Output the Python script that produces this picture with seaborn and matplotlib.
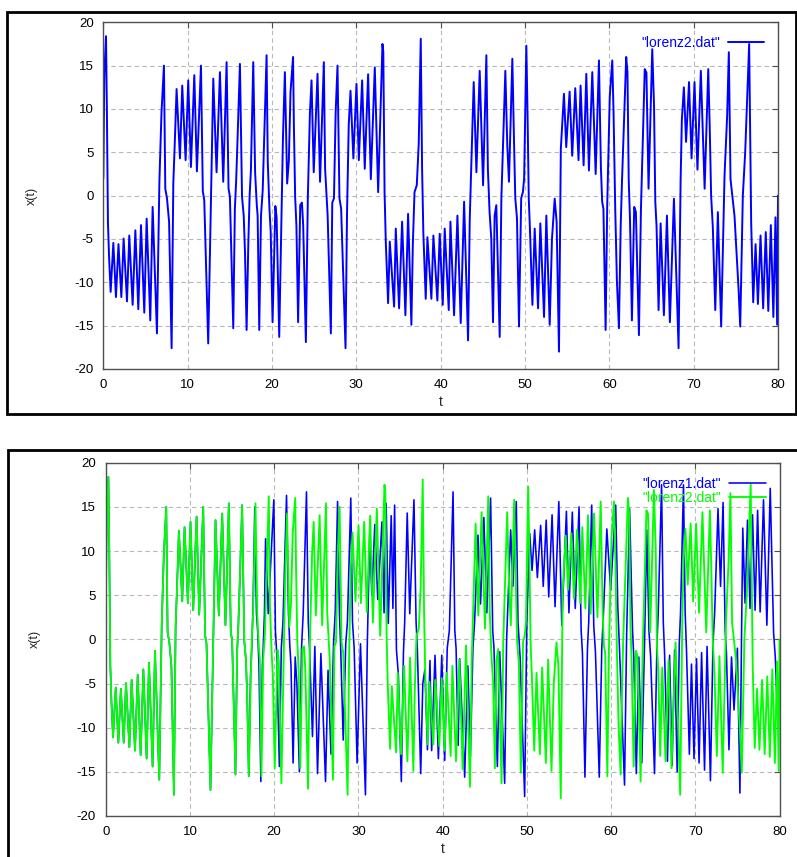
import matplotlib
matplotlib.use("Agg")
import matplotlib.pyplot as plt
from matplotlib.patches import Rectangle
import seaborn as sns
import pandas as pd

# ---------------- data (extrema) ----------------
shared_t = [0.0, 0.12, 0.32, 0.42, 0.55, 0.68, 0.87, 1.19, 1.50, 1.80, 2.14, 2.41, 2.81, 3.08,
            3.48, 3.80, 4.15, 4.47, 4.86, 5.14, 5.57, 5.85, 6.36, 6.65, 6.9, 7.19, 7.35, 7.55,
            7.8, 8.10, 8.3, 8.45, 8.69, 9.09, 9.36, 9.76, 10.07, 10.39, 10.79, 11.10, 11.58,
            11.8, 11.97, 12.44, 13.04, 13.43, 13.83, 14.22, 14.62, 14.85, 15.01, 15.41,
            15.6, 15.75, 15.9, 16.2, 16.45, 16.65, 16.8, 16.99]
shared_x = [2.0, 14.0, 18.4, 10.4, -3.0, -7.0, -11.1, -5.45, -11.7, -5.6, -11.7, -4.95, -12.2, -4.6,
            -12.6, -4.0, -13.1, -3.4, -13.5, -2.65, -14.4, -1.3, -15.9, 1.6, 9.6, 15.0, 0.8, -0.3,
            -3.0, -17.6, 1.4, 5.4, 12.3, 4.3, 12.7, 4.1, 13.3, 3.3, 13.9, 2.8, 15.0,
            0.5, -0.5, -17.05, 13.5, 2.7, 14.25, 1.6, 15.4, 0.8, -0.1, -15.3,
            -1.5, 1.6, 6.0, 15.2, -0.15, -2.3, -6.5, -15.5]

lorenz2_t = [17.2, 17.35, 17.5, 17.78, 18.0, 18.2, 18.3, 18.49, 18.7, 18.9, 19.1, 19.36, 19.5,
             19.7, 19.85, 20.07, 20.4, 20.55, 20.86, 21.1, 21.3, 21.53, 21.8, 22.0, 22.2, 22.5,
             22.6, 22.75, 22.9, 23.1, 23.35, 23.55, 23.7, 24.02, 24.25, 24.5, 24.69, 24.95, 25.4,
             25.7, 26.15, 26.3, 26.6, 26.98, 27.15, 27.35, 27.55, 27.77, 28.0, 28.2, 28.4, 28.72,
             28.9, 29.1, 29.31, 29.65, 30.02, 30.3, 30.69, 31.0, 31.4, 31.72, 32.19, 32.59, 33.1,
             33.2, 33.35, 33.5, 33.77, 33.97, 34.48, 34.68, 35.07, 35.43, 35.82, 36.14, 36.53,
             36.7, 36.9, 37.17, 37.4, 37.64, 37.8, 37.95, 38.23, 38.43, 38.9, 39.14, 39.61, 39.89,
             40.25, 40.48, 40.96, 41.16, 41.59, 41.99, 42.38, 42.78, 43.25, 43.45, 43.6, 43.92,
             44.24, 44.63, 45.03, 45.42, 45.6, 45.8, 46.0, 46.21, 46.4, 46.6, 47.0, 47.2, 47.45,
             47.67, 47.9, 48.1, 48.5, 48.7, 48.85, 49.05, 49.29, 49.55, 49.75, 49.9, 50.16, 50.3,
             50.45, 50.6, 50.88, 51.15, 51.55, 51.82, 52.26, 52.53, 52.93, 53.2, 53.52, 53.75,
             54.03, 54.25, 54.62, 54.89, 55.29, 55.6, 55.96, 56.35, 56.59, 56.95, 57.27, 57.58,
             57.98, 58.38, 58.77, 59.0, 59.15, 59.3, 59.56, 59.75, 60.05, 60.35, 60.5, 60.7, 60.9,
             61.14, 61.35, 61.5, 62.0, 62.15, 62.3, 62.45, 62.68, 62.95, 63.15, 63.51, 63.75,
             64.2, 64.4, 64.65, 65.09, 65.3, 65.45, 65.6, 65.84, 66.08, 66.47, 66.83, 67.18,
             67.66, 68.21, 68.45, 68.6, 68.84, 69.1, 69.45, 69.75, 70.1, 70.45, 70.85, 71.3,
             71.73, 71.9, 72.07, 72.27, 72.56, 72.87, 73.26, 73.66, 73.97, 74.17, 74.37, 74.84,
             75.32, 75.52, 75.83, 76.11, 76.58, 76.82, 77.06, 77.34, 77.62, 77.93, 78.24, 78.55,
             78.85, 79.15, 79.45, 79.7, 79.9, 80.0]
lorenz2_x = [-5.3, 0.0, 2.9, 15.4, 2.7, -1.1, -2.3, -15.5, -2.3, 0.6, 7.3, 16.2, 3.9,
             -1.5, -4.2, -14.6, -1.2, -2.5, -16.3, -3.8, 6.6, 14.25, 1.4, 4.0, 12.0, 16.0,
             8.0, -0.2, -3.5, -14.6, -1.1, -0.8, -3.4, -16.9, -0.3, 9.6, 13.3, 2.7, 14.05,
             1.6, 15.4, 3.1, -2.3, -15.9, -0.8, -0.3, 9.6, 15.0, -0.3, -1.5, -7.7, -17.6,
             -1.9, 8.1, 12.1, 4.3, 12.9, 4.1, 13.3, 3.1, 14.0, 1.9, 14.8, 0.4, 17.5,
             16.6, 0.4, -5.5, -12.4, -5.3, -12.8, -3.8, -13.0, -3.0, -13.8, -2.1, -14.9,
             -5.7, 0.4, 1.2, 6.0, 18.1, 3.1, -4.4, -11.9, -4.8, -11.9, -4.6, -12.1, -4.4,
             -12.6, -3.8, -13.2, -3.0, -13.8, -2.3, -14.7, -0.7, -16.7, -2.7, 2.3, 13.1,
             2.7, 14.4, 1.2, 16.2, 3.1, -1.9, -4.9, -14.6, -2.3, -1.1, -16.3, -0.3, 7.6,
             14.4, 5.8, 1.6, 15.8, 6.2, -0.3, -2.6, -15.1, -0.3, 0.4, 2.0, 17.3, 9.6,
             -0.4, -4.2, -12.6, -3.8, -13.0, -3.2, -14.0, -2.3, -14.9, -5.0, -0.35, -3.0,
             -18.0, 5.4, 11.75, 5.6, 12.0, 4.6, 12.4, 4.1, 12.7, 3.5, 14.05, 2.9,
             14.25, 2.5, 15.6, 3.3, -0.7, -1.5, -15.5, -1.1, 11.4, 15.6, 9.6, -1.5, -9.9,
             -15.3, -3.4, 1.6, 16.0, 14.3, 1.8, -2.7, -14.4, -1.3, -1.9, -16.1, -1.5,
             14.6, 14.2, 0.8, 16.9, 10.4, -0.7, -3.5, -13.2, -3.2, -13.8, -2.3, -14.6,
             -0.35, -17.6, 1.6, 8.8, 12.5, 6.2, 13.1, 4.3, 13.1, 3.0, 14.4, 0.8,
             14.6, 8.1, 0.0, -3.6, -13.2, -1.9, -15.1, 2.3, 9.2, 16.55, 1.9, -2.3,
             -10.7, -15.1, 0.0, 5.0, 17.5, -3.1, -12.3, -5.6, -12.5, -4.6, -13.0, -4.2,
             -13.3, -3.4, -14.0, -2.5, -14.9, 0.0]

lorenz1_t = [17.2, 17.35, 17.5, 17.7, 17.9, 18.05, 18.2, 18.42, 18.6, 18.7, 18.85, 18.98, 19.3,
             19.96, 20.15, 20.3, 20.62, 20.85, 21.05, 21.47, 21.7, 21.85, 22.0, 22.25, 22.5, 22.7,
             23.0, 23.25, 23.45, 23.84, 24.05, 24.2, 24.55, 24.83, 25.15, 25.55, 26.1, 26.4, 26.75,
             27.05, 27.25, 27.53, 27.75, 27.9, 28.2, 28.5, 28.7, 29.1, 29.3, 29.5, 29.85, 30.25,
             30.84, 31.05, 31.35, 31.6, 31.95, 32.3, 32.8, 33.05, 33.3, 33.55, 33.9, 34.1, 34.3,
             34.52, 34.75, 35.1, 35.35, 35.5, 35.8, 36.1, 36.6, 36.85, 37.0, 37.4, 37.65, 37.9,
             38.2, 38.5, 38.7, 39.1, 39.5, 39.9, 40.25, 40.55, 40.8, 41.24, 41.45, 41.6, 41.85,
             42.03, 42.62, 43.0, 43.3, 43.6, 43.8, 44.2, 44.5, 44.9, 45.25, 45.7, 45.95, 46.1,
             46.5, 46.78, 47.37, 47.6, 48.08, 48.35, 48.75, 48.95, 49.2, 49.74, 50.0, 50.34,
             50.62, 50.93, 51.25, 51.64, 51.95, 52.3, 52.6, 53.0, 53.35, 53.8, 54.15, 54.7, 55.0,
             55.4, 55.75, 56.2, 56.45, 56.6, 56.9, 57.2, 57.35, 57.7, 57.95, 58.15, 58.6, 58.9,
             59.1, 59.5, 59.95, 60.55, 60.8, 61.0, 61.6, 61.85, 62.2, 62.55, 62.7, 63.0, 63.3,
             63.65, 63.95, 64.25, 64.5, 64.7, 65.16, 65.45, 65.6, 66.0, 66.2, 66.35, 66.7, 66.95,
             67.25, 67.55, 67.85, 68.1, 68.25, 68.6, 68.8, 68.95, 69.3, 69.55, 69.85, 70.15,
             70.45, 70.75, 71.1, 71.4, 71.8, 72.1, 72.3, 72.7, 73.0, 73.3, 73.55, 73.7, 74.0,
             74.3, 74.6, 75.0, 75.3, 75.5, 75.64, 75.91, 76.2, 76.5, 76.8, 77.1, 77.4, 77.7,
             78.1, 78.5, 78.9, 79.3, 79.5, 79.8, 80.0]
lorenz1_x = [-4.0, -0.8, 4.0, 15.0, 3.0, 0.8, -3.0, -16.1, -3.0, -1.0, 3.0, 11.4, 2.9,
             15.8, 1.0, -1.5, -14.4, -1.0, 2.0, 16.3, 3.0, -0.5, -3.0, -14.0, -2.0, -5.0,
             -15.0, -1.0, 3.0, 16.7, 2.0, -1.0, -11.0, -0.8, -15.2, -1.6, -16.1, -3.5, -13.0,
             -0.5, 3.0, 15.6, 3.0, -1.0, -11.4, -0.5, 2.0, 16.0, 2.0, -1.0, -14.0, -0.5,
             -17.6, -1.0, 12.0, 5.0, 13.0, 4.5, 13.3, 3.0, 15.4, 1.8, 14.0, 3.5, 15.2,
             -1.2, -4.0, -16.1, -1.5, 2.0, 14.3, 2.9, 15.8, 2.0, -1.0, -15.2, -5.0, -3.4,
             -12.5, -2.4, -12.6, -1.8, -13.5, -1.8, -13.7, -1.0, 1.0, 16.7, 1.0, -1.0, -12.0,
             -2.2, -15.6, -3.0, -13.3, -1.0, 2.0, 11.8, 4.0, 13.8, 3.0, 16.0, 1.0, -1.0,
             -14.4, -1.4, -16.3, 0.0, 12.4, 6.0, 15.6, 2.0, -2.0, -17.8, 2.0, 12.0,
             7.8, 12.4, 7.0, 12.9, 6.0, 13.5, 4.8, 14.1, 3.7, 15.6, 1.6, 14.5, 3.0,
             14.4, 3.5, 15.0, 1.0, -1.5, -15.6, -1.0, 2.0, 15.2, 1.5, -1.5, -15.6, -1.0,
             3.0, 12.5, 5.6, 15.2, 3.7, -1.0, -16.5, 0.5, 14.8, 1.0, -2.0, -15.2, -2.0,
             -14.0, -1.5, 12.4, 1.0, -2.0, -15.2, -0.5, 3.0, 17.5, 2.0, -1.5, -13.8, -1.8,
             -14.3, -1.2, -15.0, -0.5, 3.0, 17.5, 3.0, -1.0, -13.0, -2.8, -13.5, -2.2,
             -14.0, -1.5, -14.8, -0.8, -16.0, -0.5, 3.0, 14.8, 6.0, 15.5, 1.0, -1.5, -12.5,
             -2.0, -8.0, -1.0, -17.4, 1.0, 12.6, 4.1, 13.5, 3.5, 14.1, 3.3, 14.6, 3.1,
             15.8, 1.6, 17.1, 0.7, -2.0, -9.7, -3.8]

x_ticks = [0, 10, 20, 30, 40, 50, 60, 70, 80]
y_ticks = [-20, -15, -10, -5, 0, 5, 10, 15, 20]

BLUE = "#0000ff"
GREEN = "#00ff00"

df2 = pd.DataFrame({"t": shared_t + lorenz2_t, "x": shared_x + lorenz2_x})
df1 = pd.DataFrame({"t": shared_t + lorenz1_t, "x": shared_x + lorenz1_x})

# ---------------- figure ----------------
sns.set_theme(style="white")
plt.rcParams["font.family"] = ["Liberation Sans Narrow", "Liberation Sans", "DejaVu Sans"]

W, H = 797, 857
fig = plt.figure(figsize=(W / 100, H / 100), dpi=100)
fig.patch.set_facecolor("white")


def fx(px):
    return px / W


def fy(py):
    return 1 - py / H


# outer panel frames
fig.patches.append(Rectangle((fx(7), fy(414)), fx(789), 402 / H, transform=fig.transFigure,
                             fill=False, edgecolor="black", lw=2.0))
fig.patches.append(Rectangle((fx(8), fy(870)), fx(800), 420 / H, transform=fig.transFigure,
                             fill=False, edgecolor="black", lw=2.0))

ax1 = fig.add_axes([fx(103.3), fy(369), fx(778 - 103.3), (369 - 22.3) / H])
ax2 = fig.add_axes([fx(105.7), fy(816), fx(779.5 - 105.7), (816 - 462.7) / H])


def style(ax):
    ax.set_xlim(0, 80)
    ax.set_ylim(-20, 20)
    ax.set_xticks(x_ticks)
    ax.set_yticks(y_ticks)
    ax.set_xticklabels([str(v) for v in x_ticks])
    ax.set_yticklabels([str(v) for v in y_ticks])
    ax.grid(True, color="#b8b8b8", linestyle=(0, (4, 3)), lw=0.8)
    for s in ax.spines.values():
        s.set_color("#505050")
        s.set_linewidth(1.0)
    ax.tick_params(direction="in", top=True, right=True, length=4, width=0.8,
                   colors="#505050", labelcolor="black", labelsize=9.5, pad=7)
    ax.set_xlabel("t", fontsize=10, labelpad=3)
    ax.set_ylabel("x(t)", fontsize=9, labelpad=26)
    ax.set_facecolor("white")


sns.lineplot(data=df2, x="t", y="x", sort=False, estimator=None, ax=ax1,
             color=BLUE, lw=1.4, label='"lorenz2.dat"')
style(ax1)

sns.lineplot(data=df1, x="t", y="x", sort=False, estimator=None, ax=ax2,
             color=BLUE, lw=1.15, label='"lorenz1.dat"')
sns.lineplot(data=df2, x="t", y="x", sort=False, estimator=None, ax=ax2,
             color=GREEN, lw=1.35, label='"lorenz2.dat"')
style(ax2)

for ax in (ax1, ax2):
    ax.legend(loc="upper right", markerfirst=False, frameon=False, fontsize=10,
              handlelength=2.6, handletextpad=0.6, labelspacing=0.05,
              borderaxespad=0.6, labelcolor="linecolor")

fig.savefig("out.png", dpi=100, facecolor="white")
